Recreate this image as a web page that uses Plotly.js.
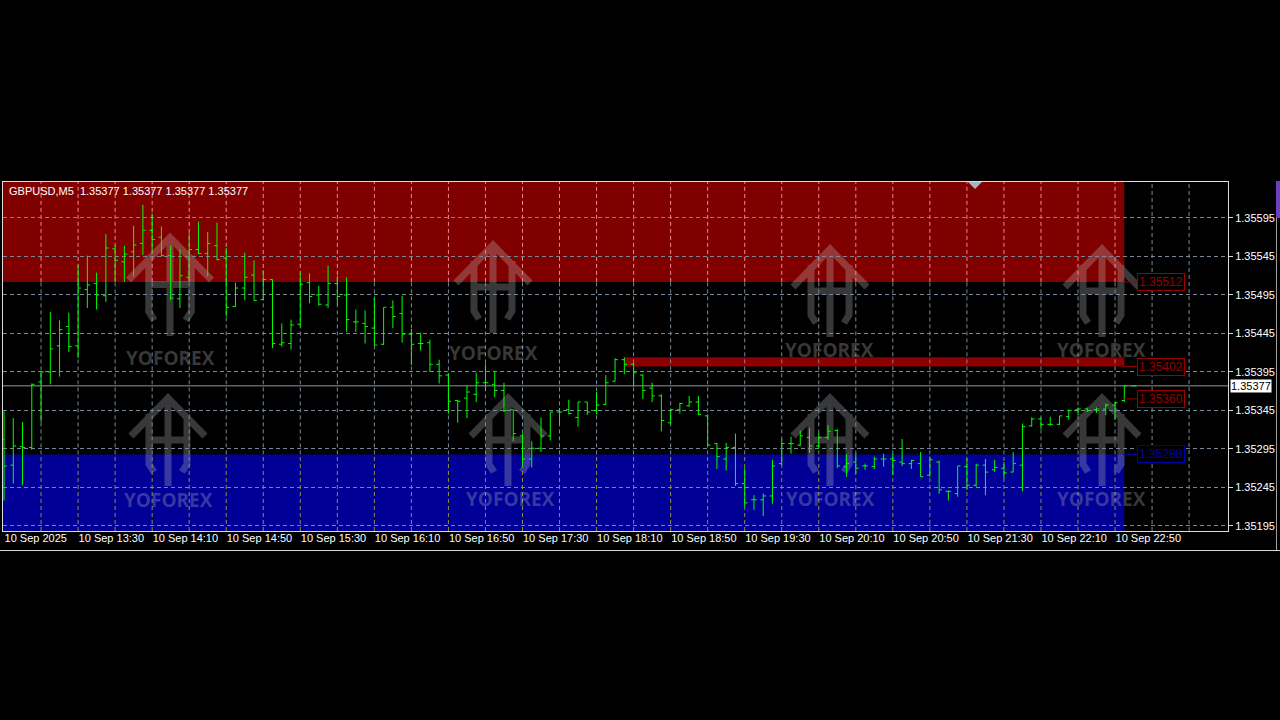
<!DOCTYPE html>
<html><head><meta charset="utf-8">
<script src="https://cdn.plot.ly/plotly-3.0.1.min.js"></script>
<style>html,body{margin:0;padding:0;background:#000;}#chart{width:1280px;height:720px;}</style>
</head><body><div id="chart"></div>
<script>
// ---------------- DATA ----------------
const symbolTitle = "GBPUSD,M5\u00a0\u00a01.35377 1.35377 1.35377 1.35377";
const startTime = [2025, 8, 10, 12, 50]; // 10 Sep 2025 12:50, M5 bars
const barMinutes = 5;

const opens = [1.35307,1.35274,1.35298,1.35297,1.35382,1.35395,1.35429,1.35454,1.35429,1.35502,
1.35510,1.35494,1.35555,1.35538,1.35551,1.35562,1.35579,1.35570,1.35546,1.35490,
1.35518,1.35554,1.35549,1.35559,1.35543,1.35480,1.35504,1.35521,1.35489,1.35515,
1.35431,1.35432,1.35457,1.35511,1.35495,1.35482,1.35510,1.35495,1.35460,1.35458,
1.35452,1.35431,1.35479,1.35471,1.35444,1.35432,1.35433,1.35405,1.35391,1.35358,
1.35361,1.35366,1.35381,1.35379,1.35371,1.35346,1.35312,1.35282,1.35296,1.35312,
1.35343,1.35346,1.35336,1.35356,1.35345,1.35353,1.35383,1.35411,1.35405,1.35391,
1.35374,1.35364,1.35329,1.35346,1.35351,1.35356,1.35338,1.35302,1.35282,1.35297,
1.35250,1.35229,1.35229,1.35234,1.35276,1.35302,1.35300,1.35310,1.35299,1.35310,
1.35319,1.35272,1.35278,1.35273,1.35272,1.35282,1.35282,1.35278,1.35276,1.35276,
1.35261,1.35278,1.35240,1.35237,1.35272,1.35248,1.35274,1.35268,1.35270,1.35265,
1.35274,1.35325,1.35334,1.35327,1.35327,1.35337,1.35346,1.35347,1.35346,1.35347,
1.35352,1.35358,1.35377];
const highs = [1.35344,1.35335,1.35330,1.35380,1.35395,1.35473,1.35462,1.35472,1.35534,1.35546,
1.35524,1.35574,1.35559,1.35559,1.35585,1.35612,1.35601,1.35584,1.35559,1.35554,
1.35575,1.35590,1.35577,1.35589,1.35556,1.35511,1.35550,1.35540,1.35527,1.35515,
1.35458,1.35463,1.35524,1.35523,1.35507,1.35533,1.35520,1.35518,1.35476,1.35475,
1.35491,1.35479,1.35488,1.35494,1.35451,1.35446,1.35437,1.35411,1.35393,1.35359,
1.35378,1.35394,1.35406,1.35395,1.35381,1.35346,1.35315,1.35305,1.35336,1.35343,
1.35348,1.35359,1.35356,1.35356,1.35369,1.35391,1.35413,1.35414,1.35407,1.35392,
1.35381,1.35366,1.35347,1.35355,1.35364,1.35364,1.35340,1.35303,1.35303,1.35315,
1.35270,1.35235,1.35237,1.35281,1.35308,1.35311,1.35319,1.35322,1.35316,1.35326,
1.35321,1.35288,1.35289,1.35276,1.35285,1.35289,1.35289,1.35308,1.35281,1.35291,
1.35285,1.35280,1.35241,1.35273,1.35283,1.35276,1.35282,1.35281,1.35278,1.35291,
1.35328,1.35336,1.35336,1.35337,1.35338,1.35346,1.35349,1.35349,1.35349,1.35354,
1.35356,1.35377,1.35377];
const lows = [1.35228,1.35250,1.35248,1.35294,1.35330,1.35379,1.35389,1.35421,1.35413,1.35478,
1.35476,1.35486,1.35513,1.35512,1.35519,1.35547,1.35551,1.35545,1.35488,1.35478,
1.35515,1.35548,1.35519,1.35540,1.35467,1.35480,1.35488,1.35488,1.35488,1.35426,
1.35428,1.35424,1.35454,1.35484,1.35481,1.35478,1.35482,1.35447,1.35447,1.35432,
1.35429,1.35430,1.35452,1.35433,1.35404,1.35423,1.35395,1.35380,1.35341,1.35329,
1.35335,1.35356,1.35372,1.35362,1.35343,1.35305,1.35274,1.35271,1.35291,1.35306,
1.35328,1.35340,1.35324,1.35339,1.35340,1.35352,1.35383,1.35392,1.35376,1.35360,
1.35356,1.35318,1.35328,1.35341,1.35350,1.35339,1.35299,1.35269,1.35267,1.35247,
1.35220,1.35216,1.35208,1.35224,1.35274,1.35289,1.35299,1.35290,1.35295,1.35307,
1.35270,1.35259,1.35263,1.35268,1.35269,1.35272,1.35261,1.35273,1.35269,1.35259,
1.35259,1.35237,1.35228,1.35233,1.35242,1.35246,1.35235,1.35265,1.35257,1.35265,
1.35240,1.35324,1.35321,1.35325,1.35326,1.35333,1.35339,1.35343,1.35342,1.35339,
1.35333,1.35356,1.35377];
const closes = [1.35273,1.35299,1.35297,1.35379,1.35395,1.35425,1.35450,1.35428,1.35504,1.35508,
1.35495,1.35556,1.35540,1.35548,1.35560,1.35579,1.35567,1.35546,1.35491,1.35520,
1.35554,1.35549,1.35562,1.35541,1.35479,1.35504,1.35518,1.35488,1.35515,1.35432,
1.35433,1.35456,1.35509,1.35493,1.35483,1.35510,1.35493,1.35463,1.35460,1.35454,
1.35430,1.35479,1.35467,1.35444,1.35431,1.35432,1.35405,1.35390,1.35357,1.35357,
1.35369,1.35381,1.35381,1.35371,1.35345,1.35315,1.35282,1.35296,1.35312,1.35343,
1.35343,1.35341,1.35356,1.35343,1.35352,1.35381,1.35411,1.35405,1.35394,1.35371,
1.35364,1.35332,1.35346,1.35354,1.35356,1.35340,1.35300,1.35285,1.35297,1.35250,
1.35225,1.35229,1.35234,1.35273,1.35302,1.35302,1.35312,1.35299,1.35310,1.35318,
1.35273,1.35276,1.35270,1.35273,1.35282,1.35282,1.35280,1.35276,1.35280,1.35259,
1.35281,1.35242,1.35240,1.35273,1.35248,1.35274,1.35265,1.35271,1.35264,1.35276,
1.35324,1.35334,1.35327,1.35327,1.35338,1.35345,1.35347,1.35345,1.35347,1.35352,
1.35355,1.35377,1.35377];

const xTickBars = [0,8,16,24,32,40,48,56,64,72,80,88,96,104,112,120];
const xTickLabels = ["10 Sep 2025","10 Sep 13:30","10 Sep 14:10","10 Sep 14:50","10 Sep 15:30",
"10 Sep 16:10","10 Sep 16:50","10 Sep 17:30","10 Sep 18:10","10 Sep 18:50","10 Sep 19:30",
"10 Sep 20:10","10 Sep 20:50","10 Sep 21:30","10 Sep 22:10","10 Sep 22:50"];
const yTickValues = [1.35195,1.35245,1.35295,1.35345,1.35395,1.35445,1.35495,1.35545,1.35595];

const resistanceZoneLow = 1.35512;
const supportZoneHigh = 1.35288;
const supplyBand = [1.35402, 1.35414];
const supplyBandStartBar = 67;
const zoneEndBar = 121;
const levelValues = [1.35512, 1.35402, 1.35360, 1.35288];
const levelColors = ['#9a0000', '#9a0000', '#9a0000', '#0000a8'];
const currentPrice = 1.35377;
const watermarkText = "YOFOREX";

// ---------------- HELPERS ----------------
const base = Date.UTC(startTime[0], startTime[1], startTime[2], startTime[3], startTime[4]);
function barTime(i) {
  return new Date(base + i * barMinutes * 60000).toISOString().replace('T', ' ').replace('Z', '');
}
const times = opens.map((_, i) => barTime(i));

// visible range, in bars
const xStartBar = -0.11, xEndBar = 132.2;
const domFrac = i => (i - xStartBar) / (xEndBar - xStartBar);

// plot area in pixels
const PL = 3, PR = 1228, PT = 182, PB = 531;
const px = x => (x - PL) / (PR - PL);
const py = y => (PB - y) / (PB - PT);

const yMin = 1.351885, yMax = 1.356417;

const gridGray = '#778899', gridPink = '#f08892', gridOlive = '#8e8e3c';
const shapes = [];

// zones (all in the lower shape layer, drawn first)
shapes.push({type:'rect', layer:'below', xref:'x domain', yref:'y', x0: 0, x1: domFrac(zoneEndBar),
  y0: resistanceZoneLow, y1: yMax, fillcolor:'#800000', line:{width:0}});
shapes.push({type:'rect', layer:'below', xref:'x domain', yref:'y', x0: 0, x1: domFrac(zoneEndBar),
  y0: yMin, y1: supportZoneHigh, fillcolor:'#000096', line:{width:0}});
shapes.push({type:'rect', layer:'below', xref:'x domain', yref:'y', x0: domFrac(supplyBandStartBar), x1: domFrac(zoneEndBar),
  y0: supplyBand[0], y1: supplyBand[1], fillcolor:'#8c0000', line:{width:0}});

// watermark logos
const wmLogos = [[170,233,1.12],[493,241,1],[830,245,1],[1102,245,1],[168,394,1],[508,394,1],[830,394,1],[1102,394,1]];
const wmTexts = [[170,358],[493,353],[829,350],[1101,350],[168,500],[510,499],[830,499],[1101,499]];
function P(x, y) { return px(x).toFixed(5) + ',' + py(y).toFixed(5); }
wmLogos.forEach(([cx, ay, s]) => {
  const d = 'M' + P(cx - 37*s, ay + 42*s) + ' L' + P(cx, ay + 4*s) + ' L' + P(cx + 37*s, ay + 42*s) +
    ' M' + P(cx - 19*s, ay + 20*s) + ' L' + P(cx - 19*s, ay + 70*s) + ' L' + P(cx - 14*s, ay + 78*s) +
    ' M' + P(cx + 19*s, ay + 20*s) + ' L' + P(cx + 19*s, ay + 70*s) + ' L' + P(cx + 14*s, ay + 78*s) +
    ' M' + P(cx - 19*s, ay + 46*s) + ' L' + P(cx + 19*s, ay + 46*s) +
    ' M' + P(cx, ay + 8*s) + ' L' + P(cx, ay + 92*s);
  shapes.push({type:'path', layer:'below', xref:'x domain', yref:'y domain', path: d,
    line:{color:'rgba(200,200,200,0.28)', width: 7}});
});

// current price line
shapes.push({type:'line', layer:'below', xref:'x domain', yref:'y', x0:0, x1:1, y0:currentPrice, y1:currentPrice,
  line:{color:'#8c969f', width:1}});

// vertical grid lines (coloured differently over the zones)
function vseg(t, a, b, c) {
  shapes.push({type:'line', layer:'below', xref:'x', yref:'y', x0:t, x1:t, y0:a, y1:b,
    line:{color:c, width:1, dash:'4px,3px'}});
}
for (let i = 4; i <= 128; i += 4) {
  const t = barTime(i);
  if (i <= zoneEndBar) {
    vseg(t, resistanceZoneLow, yMax, gridPink);
    vseg(t, supportZoneHigh, resistanceZoneLow, gridGray);
    vseg(t, yMin, supportZoneHigh, gridOlive);
  } else {
    vseg(t, yMin, yMax, gridGray);
  }
}

// level connectors
levelValues.forEach((v, k) => {
  shapes.push({type:'line', xref:'paper', yref:'y', x0:px(1123), x1:px(1137), y0:v, y1:v,
    line:{color:levelColors[k], width:1}});
});

// window decorations
shapes.push({type:'path', xref:'paper', yref:'paper', path:'M' + P(968,182) + ' L' + P(982,182) + ' L' + P(975,189) + ' Z',
  fillcolor:'#a9b3bd', line:{width:0}});
shapes.push({type:'line', xref:'paper', yref:'paper', x0:px(0), x1:px(1280), y0:py(550.5), y1:py(550.5),
  line:{color:'#d8d8d8', width:1}});
shapes.push({type:'line', xref:'paper', yref:'paper', x0:px(1276.5), x1:px(1276.5), y0:py(182), y1:py(550),
  line:{color:'#a0a0a0', width:1}});
shapes.push({type:'rect', xref:'paper', yref:'paper', x0:px(1276), x1:px(1280), y0:py(218), y1:py(181),
  fillcolor:'#6b3fc0', line:{width:0}});

// annotations
const FONT = 'Liberation Sans, Arial, sans-serif';
const annotations = [];
annotations.push({xref:'paper', yref:'paper', x:px(7), y:py(191), xanchor:'left', yanchor:'middle',
  text: symbolTitle, showarrow:false, font:{family:FONT, size:11, color:'#ffffff'}});
wmTexts.forEach(([x, y]) => {
  annotations.push({xref:'paper', yref:'paper', x:px(x), y:py(y), xanchor:'center', yanchor:'middle',
    text:'<b>' + watermarkText + '</b>', showarrow:false,
    font:{family:'Open Sans, sans-serif', size:19, color:'rgba(200,200,200,0.28)'}});
});
levelValues.forEach((v, k) => {
  annotations.push({xref:'paper', yref:'y', x:px(1137), y:v, xanchor:'left', yanchor:'middle',
    text: v.toFixed(5), showarrow:false, bgcolor:'#000000', bordercolor:levelColors[k], borderwidth:1, borderpad:1,
    font:{family:FONT, size:12, color:levelColors[k]}});
});
annotations.push({xref:'paper', yref:'y', x:px(1230), y:currentPrice, xanchor:'left', yanchor:'middle',
  text: currentPrice.toFixed(5), showarrow:false, bgcolor:'#ffffff', borderpad:0,
  font:{family:FONT, size:11, color:'#000000'}});

const trace = {
  type:'ohlc', x: times, open: opens, high: highs, low: lows, close: closes,
  increasing:{line:{color:'#00ff00', width:1}}, decreasing:{line:{color:'#00ff00', width:1}},
  tickwidth:0.3, hoverinfo:'skip', showlegend:false
};

const layout = {
  width:1280, height:720,
  margin:{l:PL, r:1280-PR, t:PT, b:720-PB, pad:0},
  paper_bgcolor:'#000000', plot_bgcolor:'#000000',
  showlegend:false,
  font:{family:FONT, size:11, color:'#ffffff'},
  xaxis:{
    type:'date', range:[barTime(xStartBar), barTime(xEndBar)],
    rangeslider:{visible:false},
    showgrid:false, zeroline:false,
    showline:true, mirror:true, linecolor:'#dcdcdc', linewidth:1,
    tickmode:'array', tickvals: xTickBars.map(i => times[i]), ticktext: xTickLabels,
    ticks:'', ticklabelposition:'outside right', ticklabelstandoff:-3,
    tickfont:{family:FONT, size:11, color:'#ffffff'}
  },
  yaxis:{
    side:'right', range:[yMin, yMax],
    tickmode:'array', tickvals: yTickValues, ticktext: yTickValues.map(v => v.toFixed(5)),
    showgrid:true, gridcolor:gridGray, gridwidth:1, griddash:'4px,3px',
    zeroline:false,
    showline:true, mirror:true, linecolor:'#dcdcdc', linewidth:1,
    ticks:'outside', ticklen:4, tickcolor:'#dcdcdc',
    tickfont:{family:FONT, size:11, color:'#ffffff'}
  },
  shapes: shapes,
  annotations: annotations
};

Plotly.newPlot('chart', [trace], layout, {staticPlot:true, displayModeBar:false});
</script>
</body></html>
